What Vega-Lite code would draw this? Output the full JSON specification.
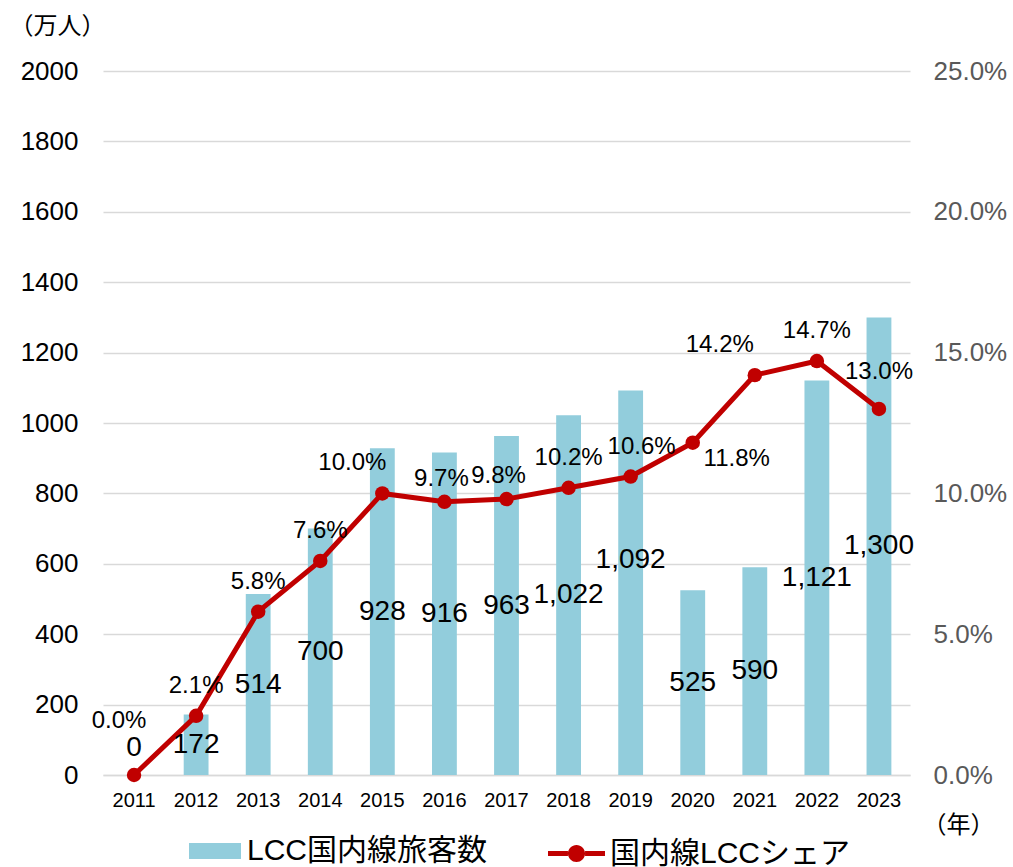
{
  "$schema": "https://vega.github.io/schema/vega-lite/v6.json",
  "width": 807,
  "height": 704,
  "autosize": {"type": "none"},
  "padding": {"left": 103, "top": 71, "right": 103, "bottom": 92},
  "background": "white",
  "config": {
    "font": "Liberation Sans, Noto Sans CJK JP, sans-serif",
    "view": {"stroke": null}
  },
  "data": {
    "values": [
      {"year": "2011", "passengers": 0, "share": 0.000},
      {"year": "2012", "passengers": 172, "share": 0.021},
      {"year": "2013", "passengers": 514, "share": 0.058},
      {"year": "2014", "passengers": 700, "share": 0.076},
      {"year": "2015", "passengers": 928, "share": 0.100},
      {"year": "2016", "passengers": 916, "share": 0.097},
      {"year": "2017", "passengers": 963, "share": 0.098},
      {"year": "2018", "passengers": 1022, "share": 0.102},
      {"year": "2019", "passengers": 1092, "share": 0.106},
      {"year": "2020", "passengers": 525, "share": 0.118},
      {"year": "2021", "passengers": 590, "share": 0.142},
      {"year": "2022", "passengers": 1121, "share": 0.147},
      {"year": "2023", "passengers": 1300, "share": 0.130}
    ]
  },
  "encoding": {
    "x": {
      "field": "year",
      "type": "ordinal",
      "scale": {"paddingInner": 0.6, "paddingOuter": 0.3},
      "axis": {
        "title": "（年）",
        "titleFont": "Noto Sans CJK JP",
        "titleFontSize": 24,
        "titleFontWeight": "normal",
        "titleColor": "#000000",
        "titleX": 855,
        "titleY": 50,
        "titleAlign": "center",
        "titleBaseline": "middle",
        "titleAngle": 0,
        "labelAngle": 0,
        "labelFontSize": 20,
        "labelColor": "#000000",
        "labelPadding": 15,
        "ticks": false,
        "grid": false,
        "domainColor": "#D9D9D9",
        "domainWidth": 1.5
      }
    }
  },
  "layer": [
    {
      "mark": {"type": "bar", "color": "#92CDDC"},
      "encoding": {
        "y": {
          "field": "passengers",
          "type": "quantitative",
          "scale": {"domain": [0, 2000], "nice": false},
          "axis": {
            "values": [0, 200, 400, 600, 800, 1000, 1200, 1400, 1600, 1800, 2000],
            "format": "d",
            "grid": true,
            "gridColor": "#D9D9D9",
            "gridWidth": 1.5,
            "domain": false,
            "ticks": false,
            "labelFontSize": 26,
            "labelColor": "#000000",
            "labelPadding": 25,
            "title": "（万人）",
            "titleFont": "Noto Sans CJK JP",
            "titleFontSize": 24,
            "titleFontWeight": "normal",
            "titleColor": "#000000",
            "titleAngle": 0,
            "titleX": -46,
            "titleY": -45,
            "titleAlign": "center",
            "titleBaseline": "middle"
          }
        },
        "color": {
          "datum": "LCC国内線旅客数",
          "scale": {"range": ["#92CDDC"]},
          "legend": {
            "title": null,
            "orient": "none",
            "legendX": 86,
            "legendY": 754,
            "symbolType": "M-1,-0.3077H1V0.3077H-1Z",
            "symbolSize": 2704,
            "symbolStrokeWidth": 0,
            "labelFontSize": 30,
            "labelOffset": 6,
            "labelColor": "#000000",
            "labelLimit": 500
          }
        }
      }
    },
    {
      "mark": {"type": "line", "strokeWidth": 5},
      "encoding": {
        "y": {
          "field": "share",
          "type": "quantitative",
          "scale": {"domain": [0, 0.25], "nice": false},
          "axis": {
            "orient": "right",
            "format": ".1%",
            "values": [0, 0.05, 0.1, 0.15, 0.2, 0.25],
            "grid": false,
            "domain": false,
            "ticks": false,
            "labelFontSize": 26,
            "labelColor": "#595959",
            "labelPadding": 23,
            "title": null
          }
        },
        "color": {
          "datum": "国内線LCCシェア",
          "scale": {"range": ["#C00000"]},
          "legend": {
            "title": null,
            "orient": "none",
            "legendX": 445,
            "legendY": 754,
            "symbolType": "M-1,-0.088H-0.3V0.088H-1Z M0.3,-0.088H1V0.088H0.3Z M0.3,0A0.3,0.3 0 1,1 -0.3,0A0.3,0.3 0 1,1 0.3,0Z",
            "symbolSize": 3249,
            "symbolFillColor": "#C00000",
            "symbolStrokeWidth": 0,
            "labelFontSize": 30,
            "labelOffset": 5,
            "labelColor": "#000000",
            "labelLimit": 500,
            "encode": {
              "symbols": {
                "update": {
                  "fill": {"value": "#C00000"},
                  "strokeWidth": {"value": 0}
                }
              }
            }
          }
        }
      }
    },
    {
      "mark": {"type": "point", "filled": true, "color": "#C00000", "size": 210, "opacity": 1},
      "encoding": {
        "y": {
          "field": "share",
          "type": "quantitative",
          "scale": {"domain": [0, 0.25], "nice": false},
          "axis": null
        }
      }
    },
    {
      "mark": {
        "type": "text",
        "fontSize": 28,
        "color": "#000000",
        "baseline": "middle",
        "dy": {"expr": "datum.year == '2011' ? -27 : datum.year == '2019' ? -23 : 0"}
      },
      "encoding": {
        "y": {
          "field": "passengers",
          "type": "quantitative",
          "scale": {"domain": [0, 4000], "nice": false},
          "axis": null
        },
        "text": {"field": "passengers", "type": "quantitative", "format": ","}
      }
    },
    {
      "mark": {
        "type": "text",
        "fontSize": 24,
        "color": "#000000",
        "baseline": "middle",
        "dx": {"expr": "datum.year == '2011' ? -15 : datum.year == '2015' ? -30 : datum.year == '2016' ? -3 : datum.year == '2017' ? -8 : datum.year == '2019' ? 11 : datum.year == '2020' ? 44 : datum.year == '2021' ? -35 : 0"},
        "dy": {"expr": "datum.year == '2011' ? -54 : datum.year == '2020' ? 16 : datum.year == '2016' || datum.year == '2017' ? -23 : datum.year == '2023' ? -37 : -30"}
      },
      "encoding": {
        "y": {
          "field": "share",
          "type": "quantitative",
          "scale": {"domain": [0, 0.25], "nice": false},
          "axis": null
        },
        "text": {"field": "share", "type": "quantitative", "format": ".1%"}
      }
    }
  ],
  "resolve": {"scale": {"y": "independent", "color": "independent"}}
}
